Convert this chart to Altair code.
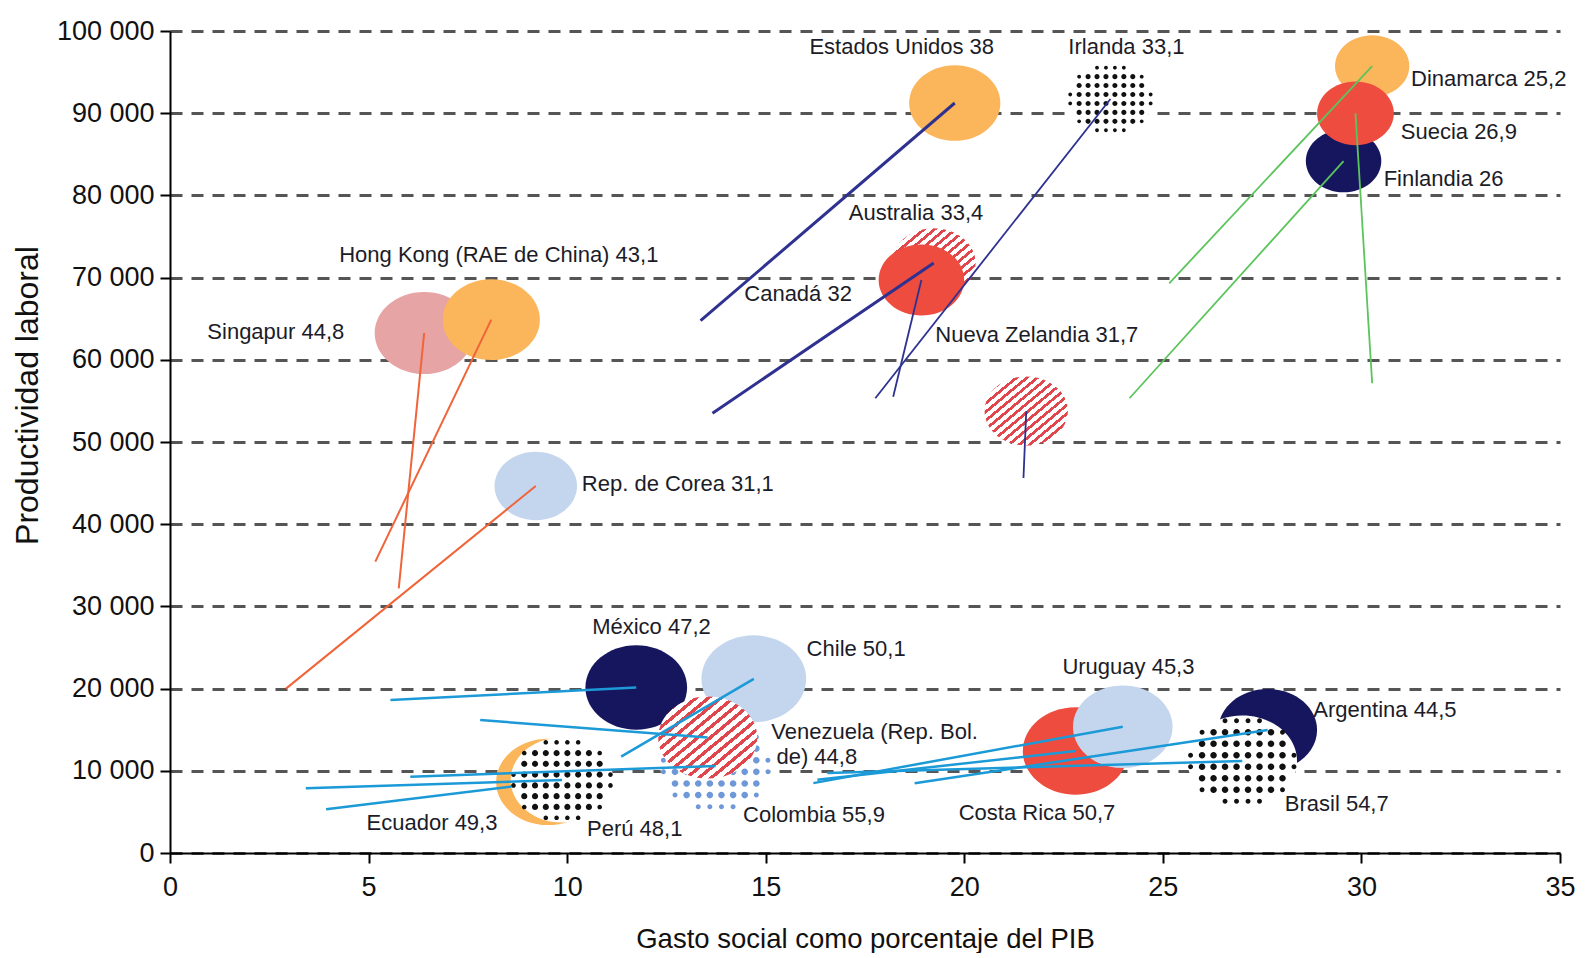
import altair as alt
import pandas as pd

# ---------------- data ----------------
paises = ["Singapur", "Hong Kong", "Rep. de Corea", "Estados Unidos", "Dinamarca",
          "Finlandia", "Suecia", "México", "Chile", "Ecuador", "Costa Rica",
          "Uruguay", "Argentina", "Irlanda", "Perú", "Brasil", "Colombia",
          "Nueva Zelandia", "Venezuela", "Canadá", "Australia"]
region = ["Asia", "Asia", "Asia", "Anglo", "Nordic",
          "Nordic", "Nordic", "LatAm", "LatAm", "LatAm", "LatAm",
          "LatAm", "LatAm", "Anglo", "LatAm", "LatAm", "LatAm",
          "Anglo", "LatAm", "Anglo", "Anglo"]
# position at the end of the period (bubble)
gasto = [6.40, 8.09, 9.21, 19.76, 30.27,
         29.55, 29.85, 11.74, 14.70, 9.52, 22.80,
         23.99, 27.64, 23.68, 9.87, 27.00, 13.74,
         21.56, 13.54, 19.23, 18.92]
productividad = [63260, 64880, 44650, 91240, 95740,
                 84180, 89990, 20130, 21190, 8640, 12410,
                 15360, 14960, 91730, 8880, 11190, 10580,
                 53770, 14050, 71780, 69710]
# position at the start of the period (line origin)
gasto_ini = [5.76, 5.17, 2.92, 13.36, 25.16,
             24.16, 30.27, 5.55, 11.36, 3.93, 16.30,
             16.20, 18.75, 17.76, 3.42, 16.55, 6.05,
             21.49, 7.81, 13.66, 18.21]
prod_ini = [32200, 35440, 20000, 64760, 69310,
            55320, 57140, 18600, 11720, 5310, 8900,
            8500, 8480, 55320, 7870, 9730, 9280,
            45620, 16180, 53490, 55510]
gini = [44.8, 43.1, 31.1, 38.0, 25.2,
        26.0, 26.9, 47.2, 50.1, 49.3, 50.7,
        45.3, 44.5, 33.1, 48.1, 54.7, 55.9,
        31.7, 44.8, 32.0, 33.4]

etiquetas = ["Estados Unidos 38", "Irlanda 33,1", "Dinamarca 25,2", "Suecia 26,9",
             "Finlandia 26", "Australia 33,4", "Hong Kong (RAE de China) 43,1",
             "Canadá 32", "Singapur 44,8", "Nueva Zelandia 31,7", "Rep. de Corea 31,1",
             "México 47,2", "Chile 50,1", "Uruguay 45,3", "Argentina 44,5",
             "Venezuela (Rep. Bol.", "de) 44,8", "Ecuador 49,3", "Perú 48,1",
             "Colombia 55,9", "Costa Rica 50,7", "Brasil 54,7"]
etiqueta_x = [16.10, 22.62, 31.25, 30.99, 30.56, 17.09, 4.26, 14.46, 0.94, 19.27,
              10.37, 10.63, 16.03, 22.47, 28.79, 15.14, 15.27, 4.95, 10.50, 14.43,
              19.86, 28.07]
etiqueta_y = [98000, 98000, 94200, 87700, 82050, 77890, 72730, 67950, 63410, 63050,
              44890, 27470, 24780, 22570, 17420, 14720, 11650, 3680, 2940, 4660,
              4910, 6010]

# ---------------- styles ----------------
FONT = "Liberation Sans, Arial, sans-serif"
ORANGE, RED, NAVY, LBLUE, PINK = "#fbb65b", "#ee4c3f", "#16165f", "#c4d6ee", "#e6a4a4"
FILL = {
    "Singapur": PINK, "Hong Kong": ORANGE, "Rep. de Corea": LBLUE,
    "Estados Unidos": ORANGE, "Dinamarca": ORANGE, "Finlandia": NAVY, "Suecia": RED,
    "México": NAVY, "Chile": LBLUE, "Ecuador": ORANGE, "Costa Rica": RED,
    "Uruguay": LBLUE, "Argentina": NAVY, "Australia": RED,
    "Irlanda": "#111111", "Perú": "#111111", "Brasil": "#111111", "Colombia": "#6f98d8",
    "Nueva Zelandia": "#e0474c", "Venezuela": "#e0474c", "Canadá": "#e0474c",
}
LINE_COLOR = {"Asia": "#f0643a", "Anglo": "#2e3190", "Nordic": "#5cc45c", "LatAm": "#1b9ad7"}
LINE_WIDTH = {"Estados Unidos": 3.0, "Canadá": 3.0, "Australia": 1.8, "Irlanda": 1.8,
              "Nueva Zelandia": 1.8, "Dinamarca": 1.8, "Suecia": 1.8, "Finlandia": 1.8,
              "Singapur": 2.0, "Hong Kong": 2.0, "Rep. de Corea": 2.0}
SOLID_BOTTOM = ["Singapur", "Hong Kong", "Rep. de Corea", "Estados Unidos", "Dinamarca",
                "Finlandia", "Suecia", "México", "Chile", "Ecuador", "Costa Rica",
                "Uruguay", "Argentina"]
DOTTED = ["Irlanda", "Perú", "Brasil", "Colombia"]
HATCHED = ["Nueva Zelandia", "Venezuela", "Canadá"]
SOLID_TOP = ["Australia"]

RY = 0.83
K = 0.5523


def ellipse(cx, cy, rx, ry):
    kx, ky = rx * K, ry * K
    f = lambda v: f"{v:.4f}"
    return (f"M {f(cx+rx)} {f(cy)} "
            f"C {f(cx+rx)} {f(cy+ky)} {f(cx+kx)} {f(cy+ry)} {f(cx)} {f(cy+ry)} "
            f"C {f(cx-kx)} {f(cy+ry)} {f(cx-rx)} {f(cy+ky)} {f(cx-rx)} {f(cy)} "
            f"C {f(cx-rx)} {f(cy-ky)} {f(cx-kx)} {f(cy-ry)} {f(cx)} {f(cy-ry)} "
            f"C {f(cx+kx)} {f(cy-ry)} {f(cx+rx)} {f(cy-ky)} {f(cx+rx)} {f(cy)} Z")


ELLIPSE_SHAPE = ellipse(0, 0, 1, RY)

# halftone dot texture (style of the dotted bubbles)
_pitch = 0.21
_parts = []
for i in range(-5, 5):
    for j in range(-4, 4):
        px, py = (i + 0.5) * _pitch, (j + 0.5) * _pitch
        d = px * px + (py / RY) ** 2
        if d <= 0.97:
            r = 0.06 if d < 0.72 else 0.045
            _parts.append(ellipse(px, py, r, r))
DOTS_SHAPE = " ".join(_parts)

# diagonal hatch texture
_stops = []
_N = 16
for i in range(_N):
    a, b, c = i / _N, (i + 0.42) / _N, (i + 1) / _N
    _stops += [{"offset": a, "color": "#e0474c"}, {"offset": b, "color": "#e0474c"},
               {"offset": b, "color": "#ffffff"}, {"offset": c, "color": "#ffffff"}]
HATCH = {"gradient": "linear", "x1": 0, "y1": 0, "x2": 1, "y2": 1, "stops": _stops}

# ---------------- tables ----------------
df = pd.DataFrame({
    "pais": paises, "region": region, "gasto": gasto, "productividad": productividad,
    "gasto_ini": gasto_ini, "prod_ini": prod_ini, "gini": gini,
})
df["fill"] = df["pais"].map(FILL)
df["line_color"] = df["region"].map(LINE_COLOR)
df["line_width"] = df["pais"].map(LINE_WIDTH).fillna(2.5)
df["orden"] = range(len(df))

labels = pd.DataFrame({"texto": etiquetas, "gasto": etiqueta_x, "productividad": etiqueta_y})

X_TITLE = "Gasto social como porcentaje del PIB"
Y_TITLE = "Productividad laboral"


def mx(field):
    return alt.X(f"{field}:Q", scale=alt.Scale(domain=[0, 35], nice=False, zero=True),
                 axis=alt.Axis(values=list(range(0, 36, 5)), title=X_TITLE, grid=False,
                               labelPadding=11, labelFlush=False, titleY=86,
                               titleBaseline="middle", titleFontSize=27.5))


def my(field):
    return alt.Y(f"{field}:Q", scale=alt.Scale(domain=[0, 100000], nice=False, zero=True),
                 axis=alt.Axis(values=list(range(0, 100001, 10000)), title=Y_TITLE,
                               grid=True, gridDash=[12, 9], gridColor="#555555",
                               gridWidth=3, gridOpacity=1, labelPadding=6,
                               labelExpr="replace(format(datum.value, ','), ',', ' ')",
                               titleX=-143, titleY=364, titleBaseline="middle",
                               titleFontSize=32))


SIZE = alt.Size("gini:Q", scale=alt.Scale(domain=[0, 60], range=[0, 13140]), legend=None)
base = alt.Chart(df)


def only(names):
    return base.transform_filter(alt.FieldOneOfPredicate(field="pais", oneOf=names))


solid_bottom = only(SOLID_BOTTOM).mark_point(
    shape=ELLIPSE_SHAPE, filled=True, opacity=1, strokeWidth=0
).encode(x=mx("gasto"), y=my("productividad"), size=SIZE,
         fill=alt.Fill("fill:N", scale=None), order=alt.Order("orden:Q"))

line_enc = dict(x=mx("gasto_ini"), y=my("prod_ini"), x2="gasto:Q", y2="productividad:Q",
                color=alt.Color("line_color:N", scale=None),
                strokeWidth=alt.StrokeWidth("line_width:Q", scale=None))

ecuador_line = only(["Ecuador"]).mark_rule().encode(**line_enc)

dots_bg = only(DOTTED).mark_point(
    shape=ELLIPSE_SHAPE, filled=True, opacity=1, strokeWidth=0, fill="#ffffff"
).encode(x=mx("gasto"), y=my("productividad"), size=SIZE)

dots = only(DOTTED).mark_point(
    shape=DOTS_SHAPE, filled=True, opacity=1, strokeWidth=0
).encode(x=mx("gasto"), y=my("productividad"), size=SIZE,
         fill=alt.Fill("fill:N", scale=None))

hatched = only(HATCHED).mark_point(
    shape=ELLIPSE_SHAPE, filled=True, opacity=1, strokeWidth=0, fill=HATCH
).encode(x=mx("gasto"), y=my("productividad"), size=SIZE)

solid_top = only(SOLID_TOP).mark_point(
    shape=ELLIPSE_SHAPE, filled=True, opacity=1, strokeWidth=0
).encode(x=mx("gasto"), y=my("productividad"), size=SIZE,
         fill=alt.Fill("fill:N", scale=None))

other_lines = base.transform_filter("datum.pais != 'Ecuador'").mark_rule().encode(**line_enc)

text = alt.Chart(labels).mark_text(
    align="left", baseline="middle", fontSize=22, font=FONT, color="#1c1c28"
).encode(x=mx("gasto"), y=my("productividad"), text="texto:N")

chart = alt.layer(
    solid_bottom, ecuador_line, dots_bg, dots, hatched, solid_top, other_lines, text
).properties(
    width=1390, height=822,
    autosize=alt.AutoSizeParams(type="none"),
    padding={"left": 162, "top": 23, "right": 18, "bottom": 100},
).configure_view(stroke=None).configure_axis(
    labelFont=FONT, titleFont=FONT, labelFontSize=27, labelColor="#111111",
    titleColor="#111111", titleFontWeight="normal", domainColor="#000000",
    domainWidth=2, tickColor="#000000", tickWidth=2, tickSize=10,
)

chart.save("out.html", embed_options={"renderer": "svg", "actions": False})
